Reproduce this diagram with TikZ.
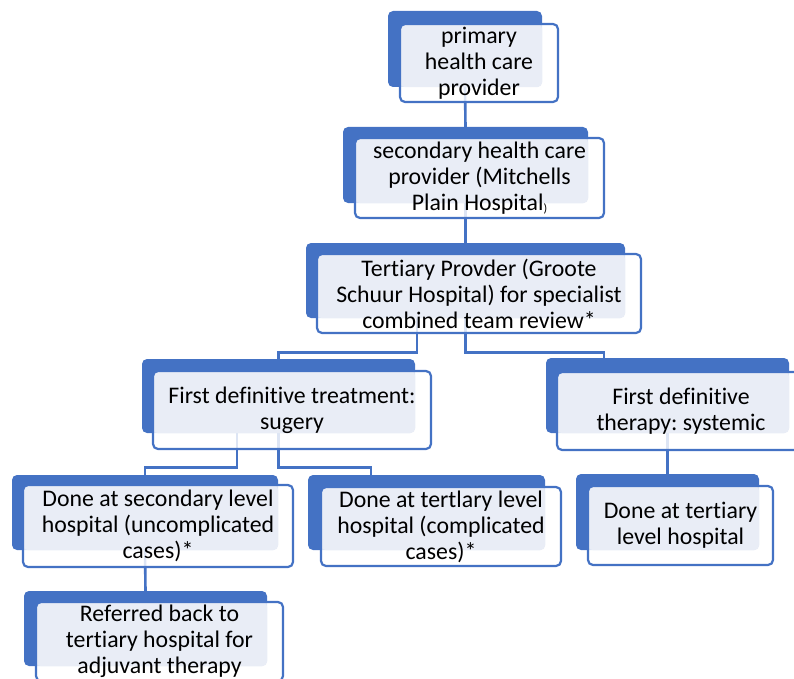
\documentclass[tikz,border=0pt]{standalone}
\usepackage{fontspec}
\setmainfont{Carlito}[Ligatures=NoCommon]
\usepackage{tikz}
\usetikzlibrary{positioning}
\definecolor{myblue}{HTML}{4472C4}
\definecolor{paleblue}{HTML}{E9EDF6}
\tikzset{
    backbox/.style = {rectangle, rounded corners=5pt, fill=myblue, inner sep=0pt},
    frontbox/.style = {rectangle, rounded corners=5pt, draw=myblue, line width=2.2pt, fill=white, fill opacity=0.82, text opacity=1, align=center, inner sep=0pt, font=\fontsize{23.8}{26}\selectfont, text=black},
    shadein/.style = {path picture={\fill[paleblue, fill opacity=1] (path picture bounding box.north west) rectangle (#1.south east);}},
    linkline/.style = {-, line width=2.6pt, myblue}, % connector
}

\begin{document}
\frenchspacing
\begin{tikzpicture}[x=1pt, y=-1pt]
\path[use as bounding box] (0,0) rectangle (794,679);
% back boxes
\node[backbox, minimum width=154pt, minimum height=76pt] at (465,49) (b1) {};
\node[backbox, minimum width=245pt, minimum height=76pt] at (465.5,165) (b2) {};
\node[backbox, minimum width=319pt, minimum height=75pt] at (465.5,280.5) (b3) {};
\node[backbox, minimum width=273pt, minimum height=74pt] at (278.5,396) (b4) {};
\node[backbox, minimum width=243pt, minimum height=75pt] at (667.5,395.5) (b5) {};
\node[backbox, minimum width=266pt, minimum height=75pt] at (145,512.5) (b6) {};
\node[backbox, minimum width=237pt, minimum height=75pt] at (426.5,512.5) (b7) {};
\node[backbox, minimum width=243pt, minimum height=75pt] at (145.5,628.5) (b8) {};
\node[backbox, minimum width=183pt, minimum height=76pt] at (667.5,512) (b9) {};
%
\draw[linkline] (b1.south) -- (b2.north);
\draw[linkline] (b2.south) -- (b3.north);
\draw[linkline] ([xshift=-48.5pt]b3.south) -- ++(0,34) -| (b4.north);
\draw[linkline] (b3.south) -- ++(0,34) -| ([xshift=-63.5pt]b5.north);
\draw[linkline] ([xshift=-41.5pt]b4.south) -- ++(0,34) -| (b6.north);
\draw[linkline] (b4.south) -- ++(0,34) -| ([xshift=-55.5pt]b7.north);
\draw[linkline] (b6.south) -- (b8.north);
\draw[linkline] (b5.south) -- (b9.north);
% front boxes
\node[frontbox, shadein=b1, minimum width=158pt, minimum height=78pt] at (479,63) (f1) {primary\\health care\\provider};
\node[frontbox, shadein=b2, minimum width=249pt, minimum height=80pt] at (479.5,178) (f2) {secondary health care\\provider (Mitchells\\Plain Hospital\raisebox{-2pt}{\fontsize{12}{12}\selectfont )}};
\node[frontbox, shadein=b3, minimum width=324pt, minimum height=79pt] at (479,293.5) (f3) {Tertiary Provder (Groote\\Schuur Hospital) for specialist\\combined team review*};
\node[frontbox, shadein=b4, minimum width=278pt, minimum height=78pt] at (292,410) (f4) {First definitive treatment:\\sugery};
\node[frontbox, shadein=b5, minimum width=248pt, minimum height=78pt] at (681,411) (f5) {First definitive\\therapy: systemic};
\node[frontbox, shadein=b6, minimum width=270pt, minimum height=82pt] at (158,526) (f6) {Done at secondary level\\hospital (uncomplicated\\cases)*};
\node[frontbox, shadein=b7, minimum width=240pt, minimum height=79pt] at (441,526.5) (f7) {Done at tertlary level\\hospital (complicated\\cases)*};
\node[frontbox, shadein=b8, minimum width=247pt, minimum height=79pt] at (159.5,641.5) (f8) {Referred back to\\tertiary hospital for\\adjuvant therapy};
\node[frontbox, shadein=b9, minimum width=185pt, minimum height=79pt] at (680.5,525.5) (f9) {Done at tertiary\\level hospital};
\end{tikzpicture}
\end{document}
